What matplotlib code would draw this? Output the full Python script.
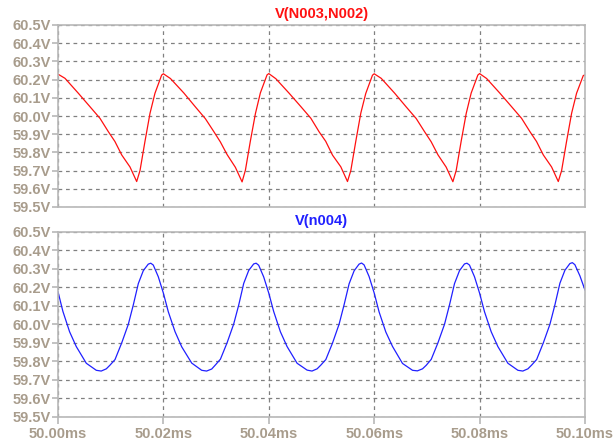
import matplotlib
matplotlib.use("Agg")
import matplotlib.pyplot as plt
from matplotlib.ticker import FuncFormatter, MultipleLocator

# ---- data (time in ms, voltage in V) ----
t_top = [50.00000, 50.00133, 50.00386, 50.00607, 50.00797, 50.00955, 50.01080, 50.01209, 50.01366, 50.01493, 50.01556, 50.01650, 50.01746, 50.01840, 50.01967,
         50.02000, 50.02133, 50.02386, 50.02607, 50.02797, 50.02955, 50.03080, 50.03209, 50.03366, 50.03493, 50.03556, 50.03650, 50.03746, 50.03840, 50.03967,
         50.04000, 50.04133, 50.04386, 50.04607, 50.04797, 50.04955, 50.05080, 50.05209, 50.05366, 50.05493, 50.05556, 50.05650, 50.05746, 50.05840, 50.05967,
         50.06000, 50.06133, 50.06386, 50.06607, 50.06797, 50.06955, 50.07080, 50.07209, 50.07366, 50.07493, 50.07556, 50.07650, 50.07746, 50.07840, 50.07967,
         50.08000, 50.08133, 50.08386, 50.08607, 50.08797, 50.08955, 50.09080, 50.09209, 50.09366, 50.09493, 50.09556, 50.09650, 50.09746, 50.09840, 50.09967,
         50.10000]
v_top = [60.230, 60.207, 60.125, 60.051, 59.987, 59.914, 59.860, 59.786, 59.720, 59.640, 59.700, 59.860, 60.015, 60.125, 60.225,
         60.232, 60.206, 60.127, 60.050, 59.985, 59.915, 59.858, 59.788, 59.718, 59.638, 59.702, 59.862, 60.013, 60.127, 60.226,
         60.233, 60.205, 60.125, 60.052, 59.988, 59.913, 59.861, 59.785, 59.721, 59.640, 59.700, 59.860, 60.016, 60.124, 60.224,
         60.232, 60.207, 60.126, 60.050, 59.986, 59.914, 59.859, 59.787, 59.719, 59.639, 59.701, 59.861, 60.014, 60.126, 60.225,
         60.233, 60.206, 60.125, 60.051, 59.987, 59.914, 59.860, 59.786, 59.720, 59.640, 59.700, 59.860, 60.015, 60.125, 60.222,
         60.226]

t_bot = [50.00000, 50.00093, 50.00220, 50.00347, 50.00537, 50.00727, 50.00820, 50.00917, 50.00987, 50.01082, 50.01209, 50.01334, 50.01429, 50.01524, 50.01619, 50.01713, 50.01760, 50.01808, 50.01903,
         50.02000, 50.02093, 50.02220, 50.02347, 50.02537, 50.02727, 50.02820, 50.02917, 50.02987, 50.03082, 50.03209, 50.03334, 50.03429, 50.03524, 50.03619, 50.03713, 50.03760, 50.03808, 50.03903,
         50.04000, 50.04093, 50.04220, 50.04347, 50.04537, 50.04727, 50.04820, 50.04917, 50.04987, 50.05082, 50.05209, 50.05334, 50.05429, 50.05524, 50.05619, 50.05713, 50.05760, 50.05808, 50.05903,
         50.06000, 50.06093, 50.06220, 50.06347, 50.06537, 50.06727, 50.06820, 50.06917, 50.06987, 50.07082, 50.07209, 50.07334, 50.07429, 50.07524, 50.07619, 50.07713, 50.07760, 50.07808, 50.07903,
         50.08000, 50.08093, 50.08220, 50.08347, 50.08537, 50.08727, 50.08820, 50.08917, 50.08987, 50.09082, 50.09209, 50.09334, 50.09429, 50.09524, 50.09619, 50.09713, 50.09760, 50.09808, 50.09903,
         50.10000]
v_bot = [60.176, 60.070, 59.960, 59.880, 59.790, 59.752, 59.748, 59.760, 59.780, 59.810, 59.900, 60.000, 60.105, 60.220, 60.290, 60.325, 60.330, 60.320, 60.257,
         60.168, 60.068, 59.961, 59.879, 59.791, 59.752, 59.748, 59.759, 59.781, 59.812, 59.901, 60.002, 60.104, 60.221, 60.291, 60.326, 60.330, 60.319, 60.256,
         60.168, 60.069, 59.960, 59.880, 59.790, 59.753, 59.748, 59.760, 59.780, 59.810, 59.899, 60.001, 60.106, 60.219, 60.289, 60.325, 60.331, 60.321, 60.258,
         60.169, 60.067, 59.959, 59.881, 59.789, 59.752, 59.749, 59.760, 59.779, 59.811, 59.900, 60.000, 60.105, 60.220, 60.290, 60.326, 60.330, 60.320, 60.257,
         60.168, 60.068, 59.960, 59.880, 59.790, 59.752, 59.748, 59.760, 59.780, 59.810, 59.900, 60.000, 60.105, 60.222, 60.292, 60.328, 60.333, 60.322, 60.262,
         60.185]

title_top = "V(N003,N002)"
title_bot = "V(n004)"

label_color = "#a89c8c"
spine_color = "#b8b8b8"
grid_color = "#808080"

plt.rcParams['font.family'] = ['Liberation Sans', 'DejaVu Sans']

fig = plt.figure(figsize=(6.14, 4.45), dpi=100)
ax1 = fig.add_axes([58/614, 1-207/445, 527/614, 182/445])
ax2 = fig.add_axes([58/614, 1-417/445, 527/614, 185.3/445])

for ax, t, v, col, title in [(ax1, t_top, v_top, "#ff1010", title_top),
                             (ax2, t_bot, v_bot, "#2020ff", title_bot)]:
    ax.plot(t, v, color=col, lw=0.9)
    ax.set_xlim(50.00, 50.10)
    ax.set_ylim(59.5, 60.5)
    ax.yaxis.set_major_locator(MultipleLocator(0.1))
    ax.xaxis.set_major_locator(MultipleLocator(0.02))
    ax.yaxis.set_major_formatter(FuncFormatter(lambda y, p: f"{y:.1f}V"))
    ax.xaxis.set_major_formatter(FuncFormatter(lambda x, p: f"{x:.2f}ms"))
    ax.grid(True, color=grid_color, linestyle=(0, (3, 3)), lw=0.9)
    for s in ax.spines.values():
        s.set_color(spine_color)
        s.set_linewidth(1.2)
    ax.tick_params(axis='both', colors=spine_color, labelcolor=label_color,
                   labelsize=10.5, length=4, width=1.2, pad=1)
    for lab in ax.get_yticklabels() + ax.get_xticklabels():
        lab.set_fontweight('bold')
    ax.set_title(title, color=col, fontsize=10.5, fontweight='bold', pad=5)

ax1.tick_params(axis='x', labelbottom=False, length=0)
ax2.tick_params(axis='x', length=5, pad=2)

fig.savefig("out.png", dpi=100)
